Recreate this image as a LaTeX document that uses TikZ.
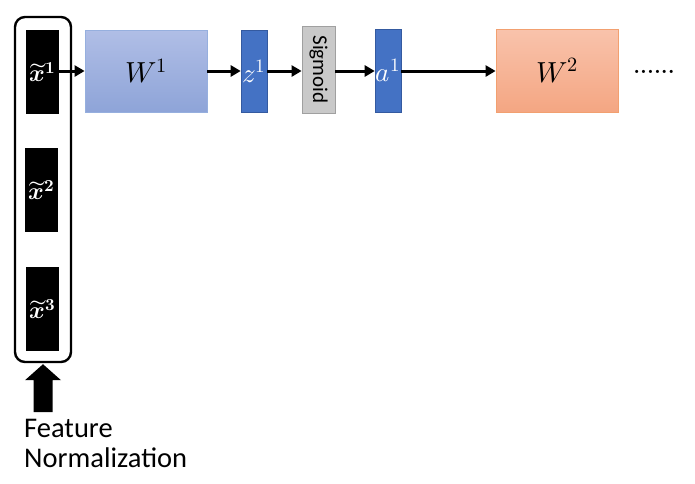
\documentclass[tikz,border=0pt]{standalone}
\usepackage{amsmath}
\usepackage{fontspec}
\usepackage{unicode-math}
\setmathfont{Latin Modern Math}
\usetikzlibrary{arrows.meta}
\newfontfamily\labelfont{Carlito}

\begin{document}
\begin{tikzpicture}[x=1pt, y=-1pt, every node/.style={inner sep=0pt}]
    % Define colors
    \definecolor{weightonetop}{RGB}{176,190,230}
    \definecolor{weightonebot}{RGB}{142,164,216}
    \definecolor{weightoneline}{RGB}{150,175,222}
    \definecolor{weighttwotop}{RGB}{249,195,172}
    \definecolor{weighttwobot}{RGB}{244,166,130}
    \definecolor{weighttwoline}{RGB}{242,160,112}
    \definecolor{vecfill}{RGB}{68,114,196}
    \definecolor{vecline}{RGB}{52,90,160}
    \definecolor{sigfill}{RGB}{201,201,201}
    \definecolor{sigline}{RGB}{160,160,160}

    \tikzset{
        featbox/.style={fill=black, minimum width=33, minimum height=84,
            text=white, font=\fontsize{24}{26}\selectfont},
        vecbox/.style={fill=vecfill, draw=vecline, line width=0.6pt,
            minimum width=26, minimum height=82, text=white,
            font=\fontsize{27}{29}\selectfont},
        flow/.style={line width=3pt, -{Triangle[length=10pt, width=11pt]}},
    }

    \useasboundingbox (0,0) rectangle (695,483);

    % Normalized features
    \node[featbox] (xone) at (42.5,72) {$\widetilde{\symbfit{x}}^{\symbf{1}}$};
    \node[featbox] (xtwo) at (41.5,190) {$\widetilde{\symbfit{x}}^{\symbf{2}}$};
    \node[featbox] (xthree) at (42.5,309) {$\widetilde{\symbfit{x}}^{\symbf{3}}$};
    \node[draw, line width=2.4pt, rounded corners=10pt,
        minimum width=56, minimum height=345] (frame) at (43,189.5) {};

    % First layer
    \node[top color=weightonetop, bottom color=weightonebot, draw=weightoneline,
        line width=0.8pt, minimum width=122, minimum height=82,
        font=\fontsize{29}{31}\selectfont] (wone) at (146,71) {$W^{1}$};
    \node[vecbox] (zone) at (254,71) {$z^{1}$};
    \node[fill=sigfill, draw=sigline, line width=0.8pt, minimum width=33,
        minimum height=87] (sig) at (318.5,69.5) {};
    \node[rotate=-90, font=\labelfont\fontsize{21}{22}\selectfont]
        (sigtext) at (sig.center) {Sigmoid};
    \node[vecbox, minimum height=83] (aone) at (388,70.5) {$a^{1}$};

    % Second layer
    \node[top color=weighttwotop, bottom color=weighttwobot, draw=weighttwoline,
        line width=0.8pt, minimum width=122, minimum height=83,
        font=\fontsize{29}{31}\selectfont] (wtwo) at (557,70.5) {$W^{2}$};
    \node[anchor=base, font=\fontsize{22}{24}\selectfont\bfseries]
        (dots) at (654,73) {......};

    % Connectors
    \draw[flow] (xone.east |- 0,71) -- (wone.west |- 0,71);
    \draw[flow] (wone.east |- 0,71) -- (zone.west |- 0,71);
    \draw[flow] (zone.east |- 0,71) -- (sig.west |- 0,71);
    \draw[flow] (sig.east |- 0,71) -- (aone.west |- 0,71);
    \draw[flow] (aone.east |- 0,71) -- (wtwo.west |- 0,71);

    % Big arrow and caption
    \coordinate (tip) at (frame.south);
    \fill ([yshift=-1pt]tip) -- ++(18,16) -- ++(-8.5,0) -- ++(0,32)
        -- ++(-19,0) -- ++(0,-32) -- ++(-8.5,0) -- cycle;
    \node[anchor=base west, align=left, font=\labelfont\fontsize{28.5}{30}\selectfont]
        (caption) at (24,467) {Feature\\Normalization};
\end{tikzpicture}
\end{document}
